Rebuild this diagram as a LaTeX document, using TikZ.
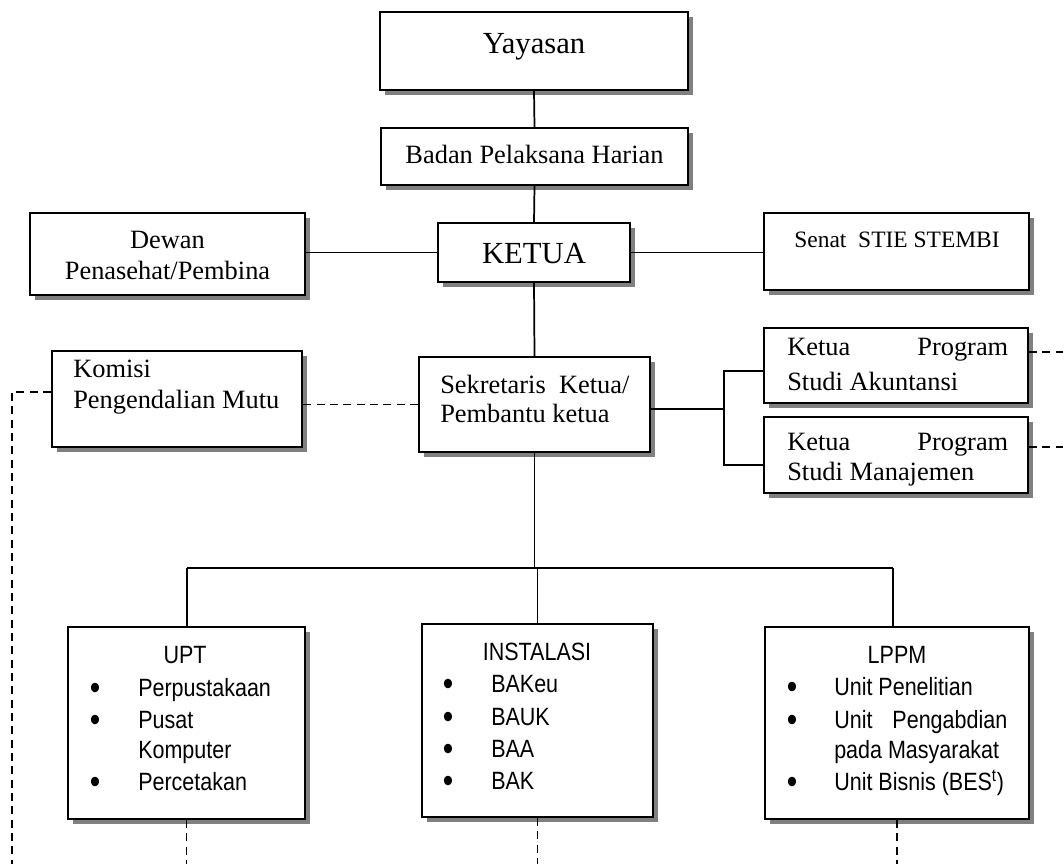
\documentclass[tikz,border=0pt]{standalone}
\usepackage{fontspec}
\setmainfont{Liberation Serif}
\newfontfamily\narrowsans{Liberation Sans}[FakeStretch=0.86]
\usetikzlibrary{shadows}
\begin{document}
\begin{tikzpicture}[x=0.75pt,y=-0.75pt,
  box/.style={draw, line width=1.5pt, fill=white, inner sep=0pt,
    drop shadow={shadow xshift=3.75pt, shadow yshift=-3.75pt, fill=black!50, opacity=1}},
  conn/.style={line width=1.3pt},
  dashline/.style={line width=1.3pt, dash pattern=on 6pt off 4pt},
  big/.style={font=\fontsize{23}{27}\selectfont, inner sep=0pt},
  ser/.style={font=\fontsize{19.8}{23.25}\selectfont, inner sep=0pt},
  sml/.style={font=\fontsize{17.6}{21}\selectfont, inner sep=0pt},
  sns/.style={font=\narrowsans\fontsize{18.75}{23.25}\selectfont, inner sep=0pt},
  bul/.style={font=\narrowsans\fontsize{26}{28}\selectfont, inner sep=0pt, anchor=base}]
\useasboundingbox (0,0) rectangle (1063,864);
% boxes
\node[box, minimum width=231pt, minimum height=58.5pt] (yay) at (534,51) {};
\node[box, minimum width=230.25pt, minimum height=42.75pt] (bad) at (534.5,156.5) {};
\node[box, minimum width=144pt, minimum height=44.25pt] (ketua) at (534,252.5) {};
\node[box, minimum width=206.25pt, minimum height=61.5pt] (dewan) at (167.5,254) {};
\node[box, minimum width=198.75pt, minimum height=57.75pt] (senat) at (896.5,251.5) {};
\node[box, minimum width=187.5pt, minimum height=72pt] (kom) at (177,399) {};
\node[box, minimum width=173.25pt, minimum height=71.25pt] (sek) at (534.5,404.5) {};
\node[box, minimum width=198pt, minimum height=56.25pt] (akt) at (896,365.5) {};
\node[box, minimum width=198pt, minimum height=57pt] (man) at (896,455) {};
\node[box, minimum width=177.75pt, minimum height=144pt] (upt) at (186.5,723) {};
\node[box, minimum width=173.25pt, minimum height=144.75pt] (inst) at (537.5,720.5) {};
\node[box, minimum width=198pt, minimum height=144pt] (lppm) at (897,723) {};
% texts
\node[big, anchor=base] (tyay) at (534,53) {Yayasan};
\node[ser, anchor=base] (tbad) at (534.5,163) {Badan Pelaksana Harian};
\node[big, anchor=base] (tket) at (534,263) {KETUA};
\node[ser, anchor=base] (tdew1) at (167.5,248) {Dewan};
\node[ser, anchor=base] (tdew2) at (167.5,279) {Penasehat/Pembina};
\node[sml, anchor=base] (tsen) at (897,247) {Senat\ \ STIE STEMBI};
\node[ser, anchor=base west] (tkom1) at (73,377) {Komisi};
\node[ser, anchor=base west] (tkom2) at (73,408) {Pengendalian Mutu};
\node[ser, anchor=base west] (tsek1) at (440,393) {Sekretaris\ \ Ketua/};
\node[ser, anchor=base west] (tsek2) at (440,422) {Pembantu ketua};
\node[ser, anchor=base west] (takt1) at (787,355) {\makebox[165.75pt][s]{Ketua Program}};
\node[ser, anchor=base west] (takt2) at (787,390) {Studi Akuntansi};
\node[ser, anchor=base west] (tman1) at (787,450) {\makebox[165.75pt][s]{Ketua Program}};
\node[ser, anchor=base west] (tman2) at (787,480) {Studi Manajemen};
% UPT
\node[sns, anchor=base] (tupt) at (185,663) {UPT};
\node[bul] (bu1) at (95,699) {•};
\node[bul] (bu2) at (95,731) {•};
\node[bul] (bu3) at (95,793) {•};
\node[sns, anchor=base west] (tu1) at (138,696) {Perpustakaan};
\node[sns, anchor=base west] (tu2) at (138,728) {Pusat};
\node[sns, anchor=base west] (tu3) at (138,758) {Komputer};
\node[sns, anchor=base west] (tu4) at (138,790) {Percetakan};
% INSTALASI
\node[sns, anchor=base] (tins) at (537,660) {INSTALASI};
\node[bul] (bi1) at (448,695) {•};
\node[bul] (bi2) at (448,728) {•};
\node[bul] (bi3) at (448,760) {•};
\node[bul] (bi4) at (448,792) {•};
\node[sns, anchor=base west] (ti1) at (491,692) {BAKeu};
\node[sns, anchor=base west] (ti2) at (491,725) {BAUK};
\node[sns, anchor=base west] (ti3) at (491,757) {BAA};
\node[sns, anchor=base west] (ti4) at (491,789) {BAK};
% LPPM
\node[sns, anchor=base] (tlp) at (897,663) {LPPM};
\node[bul] (bl1) at (792,698) {•};
\node[bul] (bl2) at (792,731) {•};
\node[bul] (bl3) at (792,793) {•};
\node[sns, anchor=base west] (tl1) at (834,695) {Unit Penelitian};
\node[sns, anchor=base west] (tl2) at (834,728) {\makebox[129.75pt][s]{Unit Pengabdian}};
\node[sns, anchor=base west] (tl3) at (834,758) {pada Masyarakat};
\node[sns, anchor=base west] (tl4) at (834,790) {Unit Bisnis (BES\textsuperscript{t})};
% coordinates
\coordinate (lc) at (12,392);
\coordinate (lb) at (12,864);
\coordinate (bt) at (724,371);
\coordinate (bm) at (724,409);
\coordinate (bb) at (724,465);
\coordinate (rd1) at (1063,352);
\coordinate (rd2) at (1063,447);
\coordinate (busc) at (534,568);
\coordinate (busL) at (187,568);
\coordinate (busR) at (893,568);
\coordinate (bot) at (0,864);
% connectors
\draw[conn] (yay.south) -- (bad.north);
\draw[conn] (bad.south) -- (ketua.north);
\draw[conn] (ketua.west) -- (ketua.west -| dewan.east);
\draw[conn] (ketua.east) -- (ketua.east -| senat.west);
\draw[conn] (ketua.south) -- (sek.north);
\draw[dashline] (sek.west) -- (sek.west -| kom.east);
\draw[dashline] (kom.west |- lc) -- (lc) -- (lb);
\draw[conn] (sek.east |- bm) -- (bm);
\draw[conn] (akt.west |- bt) -- (bt) -- (bb) -- (man.west |- bb);
\draw[dashline] (akt.east |- rd1) -- (rd1);
\draw[dashline] (man.east |- rd2) -- (rd2);
\draw[conn] (sek.south) -- (sek.south |- busc);
\draw[conn] (busL) -- (busR);
\draw[conn] (busL) -- (busL |- upt.north);
\draw[conn] (inst.north |- busc) -- (inst.north);
\draw[conn] (busR) -- (busR |- lppm.north);
\draw[dashline] (upt.south) -- (upt.south |- bot);
\draw[dashline] (inst.south) -- (inst.south |- bot);
\draw[dashline] (lppm.south) -- (lppm.south |- bot);
\end{tikzpicture}
\end{document}
